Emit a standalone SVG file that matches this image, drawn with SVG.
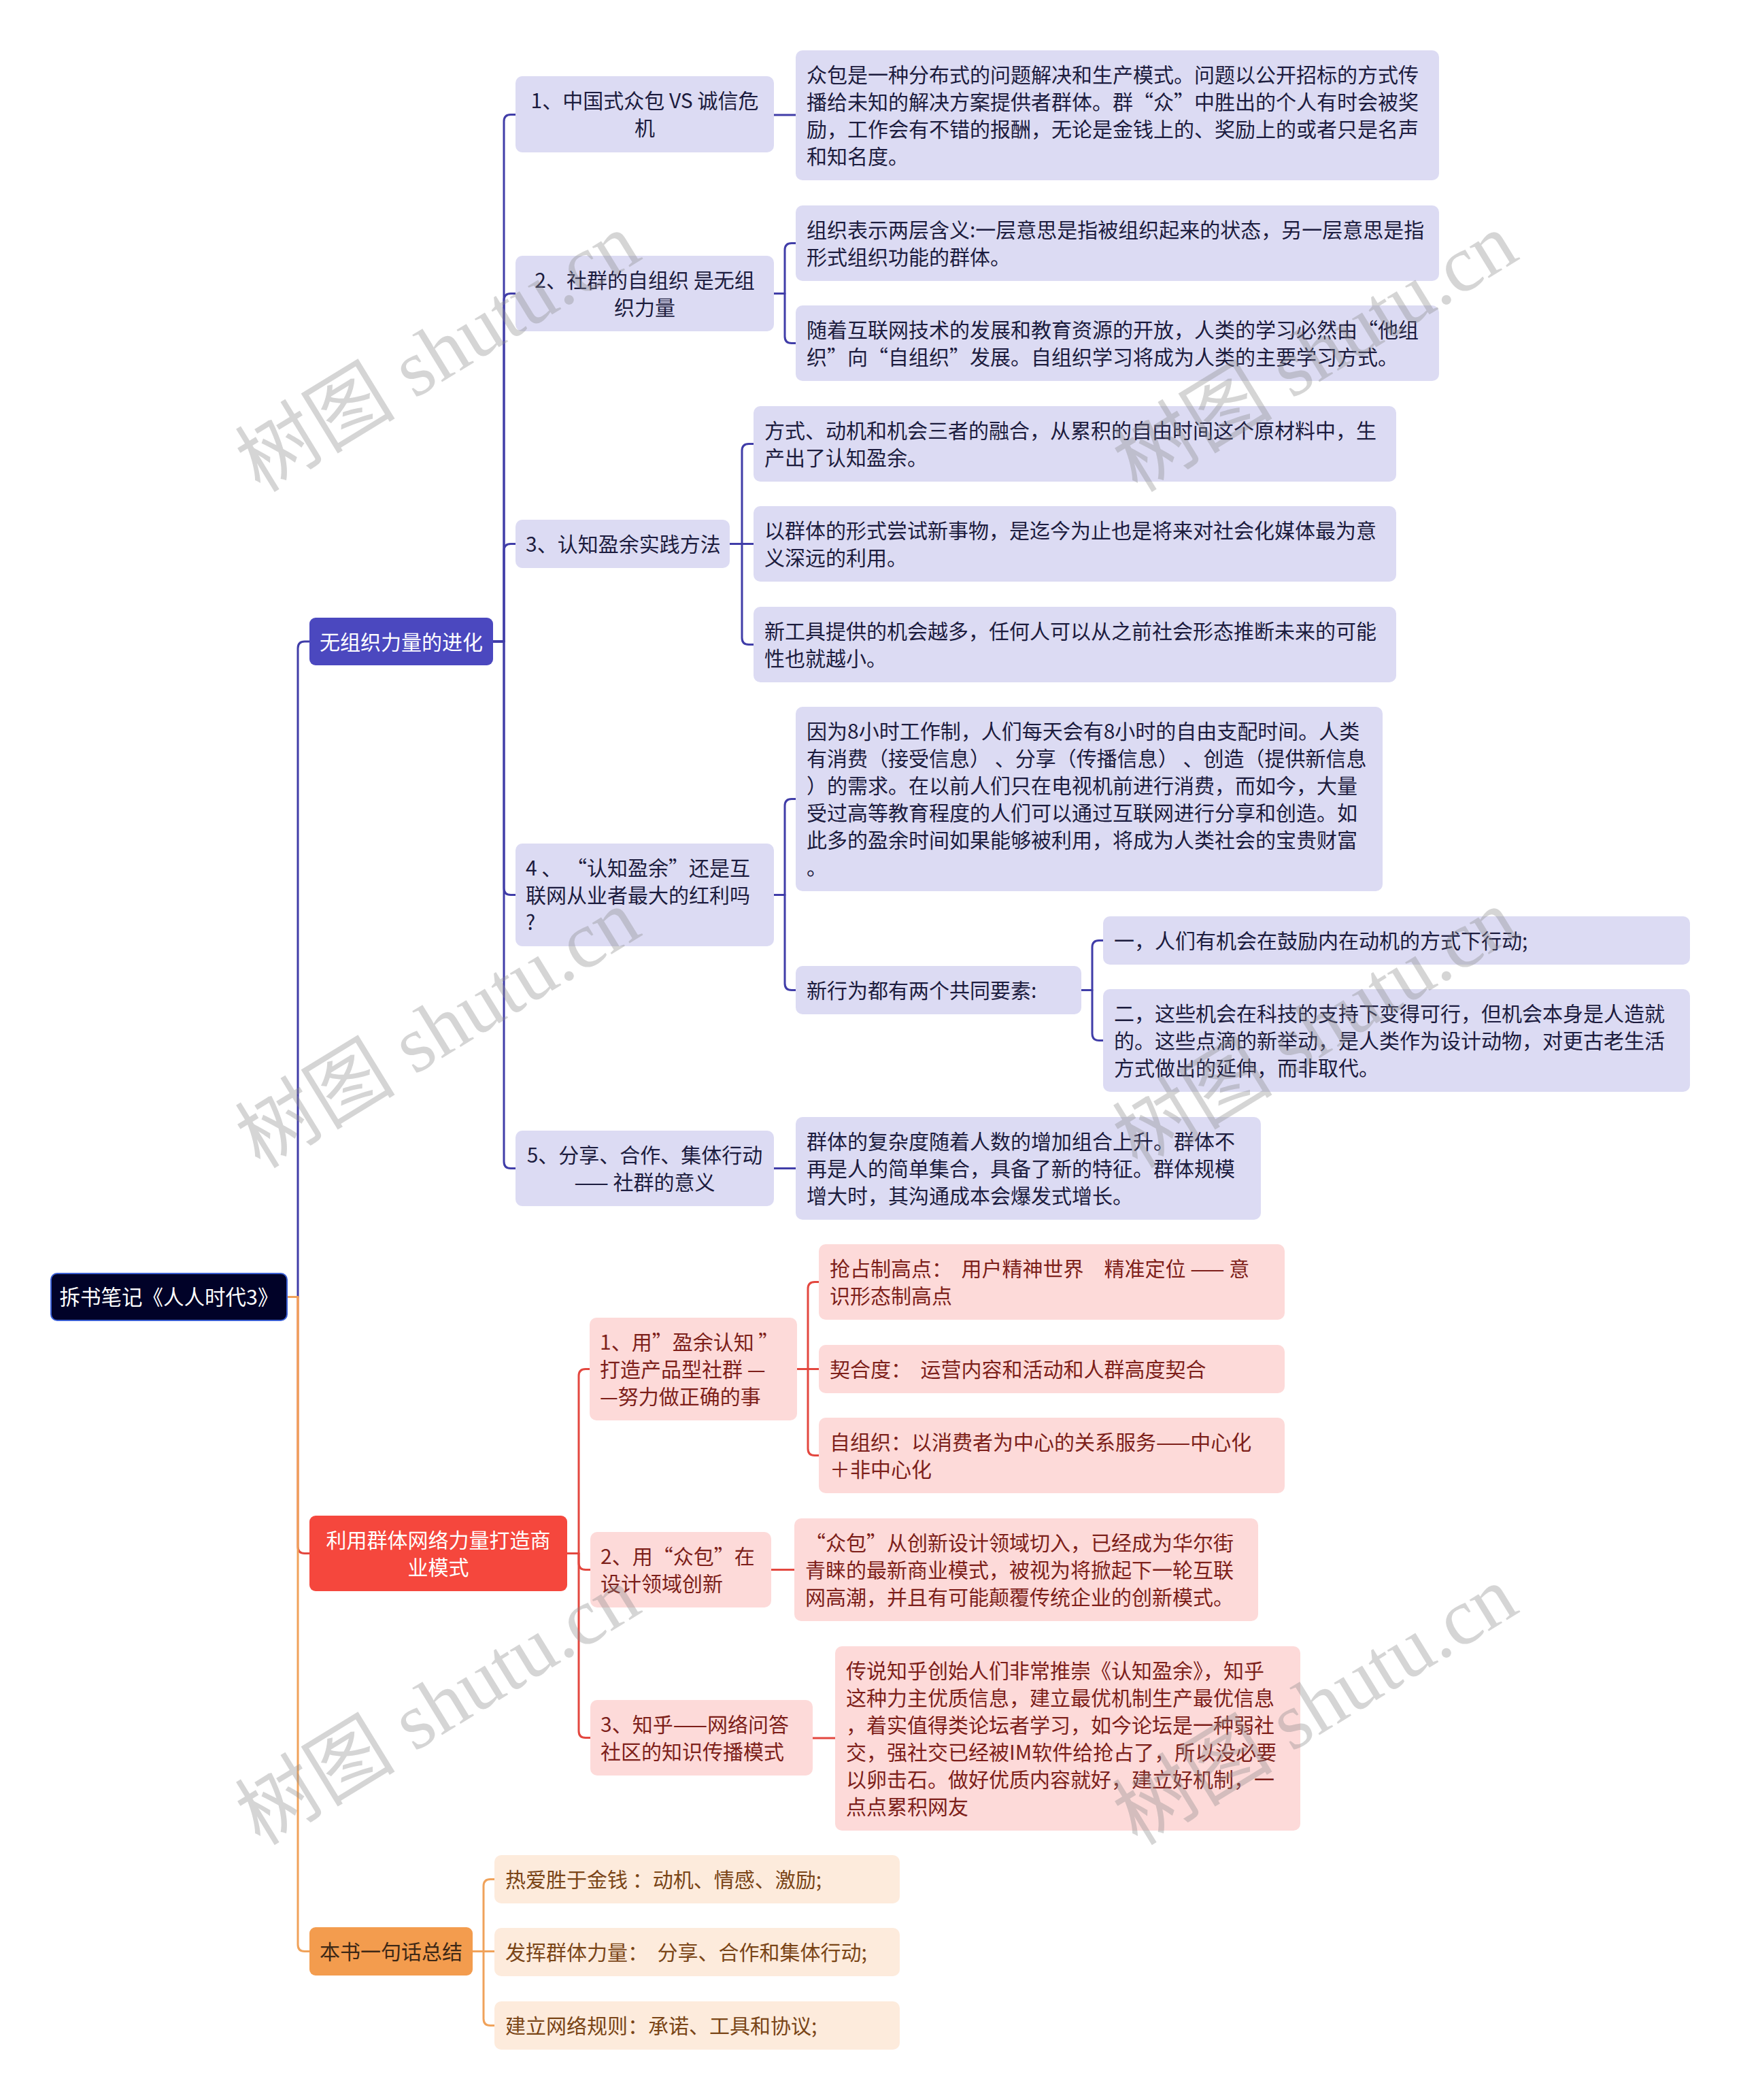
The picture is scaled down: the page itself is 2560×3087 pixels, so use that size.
<svg xmlns="http://www.w3.org/2000/svg" width="2560" height="3087" viewBox="0 0 2560 3087">
<style>
text{font-family:"Noto Sans CJK SC","Noto Sans",sans-serif;font-size:30px}
.lv{fill:#dcdbf3}
.pk{fill:#fddad9}
.pe{fill:#fdebdc}
.tA{fill:#1c1c3e}
.tB{fill:#7d1f1a}
.tC{fill:#7a4517}
.tw{fill:#ffffff}
.mid{text-anchor:middle}
.c{fill:none;stroke-width:3;stroke-linejoin:round}
.cA{stroke:#403da8}
.cB{stroke:#e3473f}
.cC{stroke:#f0a25a}
.wm{font-family:"Liberation Serif","Noto Sans CJK SC",serif;font-size:118px;fill:#8a8a8a;fill-opacity:0.36;text-anchor:middle}
</style>
<rect width="2560" height="3087" fill="#ffffff"/>

<g id="connectors">
<path class="c cA" d="M422,1906.5 H438 V953 Q438,943 448,943 H455"/>
<path class="c cB" d="M422,1906.5 H438 V2273.5 Q438,2283.5 448,2283.5 H455"/>
<path class="c cC" d="M422,1906.5 H438 V2858.5 Q438,2868.5 448,2868.5 H455"/>

<path class="c cA" d="M725,943 H741 V178.5 Q741,168.5 751,168.5 H758"/>
<path class="c cA" d="M725,943 H741 V441.5 Q741,431.5 751,431.5 H758"/>
<path class="c cA" d="M725,943 H741 V809.5 Q741,799.5 751,799.5 H758"/>
<path class="c cA" d="M725,943 H741 V1305.5 Q741,1315.5 751,1315.5 H758"/>
<path class="c cA" d="M725,943 H741 V1707.5 Q741,1717.5 751,1717.5 H758"/>

<path class="c cA" d="M1138,169 H1170"/>
<path class="c cA" d="M1138,431.5 H1154 V367.5 Q1154,357.5 1164,357.5 H1170"/>
<path class="c cA" d="M1138,431.5 H1154 V494.5 Q1154,504.5 1164,504.5 H1170"/>
<path class="c cA" d="M1073,799.5 H1091 V662.5 Q1091,652.5 1101,652.5 H1108"/>
<path class="c cA" d="M1073,799.5 H1108"/>
<path class="c cA" d="M1073,799.5 H1091 V937.5 Q1091,947.5 1101,947.5 H1108"/>
<path class="c cA" d="M1138,1315.5 H1154 V1184.5 Q1154,1174.5 1164,1174.5 H1170"/>
<path class="c cA" d="M1138,1315.5 H1154 V1445.5 Q1154,1455.5 1164,1455.5 H1170"/>
<path class="c cA" d="M1590,1455.5 H1606 V1392.5 Q1606,1382.5 1616,1382.5 H1622"/>
<path class="c cA" d="M1590,1455.5 H1606 V1519.5 Q1606,1529.5 1616,1529.5 H1622"/>
<path class="c cA" d="M1138,1717.5 H1170"/>

<path class="c cB" d="M834,2283.5 H851 V2022.5 Q851,2012.5 861,2012.5 H867"/>
<path class="c cB" d="M834,2283.5 H851 V2297.5 Q851,2307.5 861,2307.5 H868"/>
<path class="c cB" d="M834,2283.5 H851 V2544.5 Q851,2554.5 861,2554.5 H868"/>
<path class="c cB" d="M1172,2012.5 H1188 V1894.5 Q1188,1884.5 1198,1884.5 H1204"/>
<path class="c cB" d="M1172,2012.5 H1204"/>
<path class="c cB" d="M1172,2012.5 H1188 V2129.5 Q1188,2139.5 1198,2139.5 H1204"/>
<path class="c cB" d="M1134,2307.5 H1168"/>
<path class="c cB" d="M1195,2555 H1228"/>

<path class="c cC" d="M695,2868.5 H711 V2772.5 Q711,2762.5 721,2762.5 H727"/>
<path class="c cC" d="M695,2868.5 H727"/>
<path class="c cC" d="M695,2868.5 H711 V2967.5 Q711,2977.5 721,2977.5 H727"/>
</g>

<g id="root">
<rect x="75" y="1872" width="347" height="69" rx="9" fill="#010228" stroke="#3b5fd4" stroke-width="2"/>
<text class="tw mid" x="248.5" y="1917.5" style="font-size:30.5px">拆书笔记《人人时代3》</text>
</g>

<g id="n-a">
<rect x="455" y="908" width="270" height="70" rx="9" fill="#4b48bf"/>
<text class="tw mid" x="590" y="955">无组织力量的进化</text>
</g>
<g id="n-a1">
<rect class="lv" x="758" y="112" width="380" height="112" rx="10"/>
<text class="tA mid" x="948" y="159">1、中国式众包 VS 诚信危</text>
<text class="tA mid" x="948" y="199">机</text>
</g>
<g id="n-a1c">
<rect class="lv" x="1170" y="74" width="946" height="191" rx="10"/>
<text class="tA" x="1186" y="121">众包是一种分布式的问题解决和生产模式。问题以公开招标的方式传</text>
<text class="tA" x="1186" y="161">播给未知的解决方案提供者群体。群“众”中胜出的个人有时会被奖</text>
<text class="tA" x="1186" y="201">励，工作会有不错的报酬，无论是金钱上的、奖励上的或者只是名声</text>
<text class="tA" x="1186" y="241">和知名度。</text>
</g>
<g id="n-a2">
<rect class="lv" x="758" y="376" width="380" height="111" rx="10"/>
<text class="tA mid" x="948" y="423">2、社群的自组织 是无组</text>
<text class="tA mid" x="948" y="463">织力量</text>
</g>
<g id="n-a2c1">
<rect class="lv" x="1170" y="302" width="946" height="111" rx="10"/>
<text class="tA" x="1186" y="349">组织表示两层含义:一层意思是指被组织起来的状态，另一层意思是指</text>
<text class="tA" x="1186" y="389">形式组织功能的群体。</text>
</g>
<g id="n-a2c2">
<rect class="lv" x="1170" y="449" width="946" height="111" rx="10"/>
<text class="tA" x="1186" y="496">随着互联网技术的发展和教育资源的开放，人类的学习必然由“他组</text>
<text class="tA" x="1186" y="536">织”向“自组织”发展。自组织学习将成为人类的主要学习方式。</text>
</g>
<g id="n-a3">
<rect class="lv" x="758" y="764" width="315" height="71" rx="10"/>
<text class="tA" x="773" y="811">3、认知盈余实践方法</text>
</g>
<g id="n-a3c1">
<rect class="lv" x="1108" y="597" width="945" height="111" rx="10"/>
<text class="tA" x="1124" y="644">方式、动机和机会三者的融合，从累积的自由时间这个原材料中，生</text>
<text class="tA" x="1124" y="684">产出了认知盈余。</text>
</g>
<g id="n-a3c2">
<rect class="lv" x="1108" y="744" width="945" height="111" rx="10"/>
<text class="tA" x="1124" y="791">以群体的形式尝试新事物，是迄今为止也是将来对社会化媒体最为意</text>
<text class="tA" x="1124" y="831">义深远的利用。</text>
</g>
<g id="n-a3c3">
<rect class="lv" x="1108" y="892" width="945" height="111" rx="10"/>
<text class="tA" x="1124" y="939">新工具提供的机会越多，任何人可以从之前社会形态推断未来的可能</text>
<text class="tA" x="1124" y="979">性也就越小。</text>
</g>
<g id="n-a4">
<rect class="lv" x="758" y="1240" width="380" height="151" rx="10"/>
<text class="tA" x="773" y="1287" xml:space="preserve">4 、 “认知盈余”还是互</text>
<text class="tA" x="773" y="1327">联网从业者最大的红利吗</text>
<text class="tA" x="773" y="1367">?</text>
</g>
<g id="n-a4c1">
<rect class="lv" x="1170" y="1039" width="863" height="271" rx="10"/>
<text class="tA" x="1186" y="1086">因为8小时工作制，人们每天会有8小时的自由支配时间。人类</text>
<text class="tA" x="1186" y="1126" xml:space="preserve">有消费（接受信息） 、分享（传播信息） 、创造（提供新信息</text>
<text class="tA" x="1186" y="1166">）的需求。在以前人们只在电视机前进行消费，而如今，大量</text>
<text class="tA" x="1186" y="1206">受过高等教育程度的人们可以通过互联网进行分享和创造。如</text>
<text class="tA" x="1186" y="1246">此多的盈余时间如果能够被利用，将成为人类社会的宝贵财富</text>
<text class="tA" x="1186" y="1286">。</text>
</g>
<g id="n-a4c2">
<rect class="lv" x="1170" y="1420" width="420" height="71" rx="10"/>
<text class="tA" x="1186" y="1467">新行为都有两个共同要素:</text>
</g>
<g id="n-a4c2c1">
<rect class="lv" x="1622" y="1347" width="863" height="71" rx="10"/>
<text class="tA" x="1638" y="1394">一，人们有机会在鼓励内在动机的方式下行动;</text>
</g>
<g id="n-a4c2c2">
<rect class="lv" x="1622" y="1454" width="863" height="151" rx="10"/>
<text class="tA" x="1638" y="1501">二，这些机会在科技的支持下变得可行，但机会本身是人造就</text>
<text class="tA" x="1638" y="1541">的。这些点滴的新举动，是人类作为设计动物，对更古老生活</text>
<text class="tA" x="1638" y="1581">方式做出的延伸，而非取代。</text>
</g>
<g id="n-a5">
<rect class="lv" x="758" y="1662" width="380" height="111" rx="10"/>
<text class="tA mid" x="948" y="1709">5、分享、合作、集体行动</text>
<text class="tA mid" x="948" y="1749">—— 社群的意义</text>
</g>
<g id="n-a5c">
<rect class="lv" x="1170" y="1642" width="684" height="151" rx="10"/>
<text class="tA" x="1186" y="1689">群体的复杂度随着人数的增加组合上升。群体不</text>
<text class="tA" x="1186" y="1729">再是人的简单集合，具备了新的特征。群体规模</text>
<text class="tA" x="1186" y="1769">增大时，其沟通成本会爆发式增长。</text>
</g>

<g id="n-b">
<rect x="455" y="2228" width="379" height="111" rx="9" fill="#f5473d"/>
<text class="tw mid" x="644.5" y="2275">利用群体网络力量打造商</text>
<text class="tw mid" x="644.5" y="2315">业模式</text>
</g>
<g id="n-b1">
<rect class="pk" x="867" y="1937" width="305" height="151" rx="10"/>
<text class="tB" x="882" y="1984">1、用”盈余认知 ”</text>
<text class="tB" x="882" y="2024">打造产品型社群 —</text>
<text class="tB" x="882" y="2064">—努力做正确的事</text>
</g>
<g id="n-b1c1">
<rect class="pk" x="1204" y="1829" width="685" height="111" rx="10"/>
<text class="tB" x="1220" y="1876" xml:space="preserve">抢占制高点：  用户精神世界　精准定位 —— 意</text>
<text class="tB" x="1220" y="1916">识形态制高点</text>
</g>
<g id="n-b1c2">
<rect class="pk" x="1204" y="1977" width="685" height="71" rx="10"/>
<text class="tB" x="1220" y="2024" xml:space="preserve">契合度：  运营内容和活动和人群高度契合</text>
</g>
<g id="n-b1c3">
<rect class="pk" x="1204" y="2084" width="685" height="111" rx="10"/>
<text class="tB" x="1220" y="2131">自组织：以消费者为中心的关系服务——中心化</text>
<text class="tB" x="1220" y="2171">＋非中心化</text>
</g>
<g id="n-b2">
<rect class="pk" x="868" y="2252" width="266" height="111" rx="10"/>
<text class="tB" x="883" y="2299">2、用“众包”在</text>
<text class="tB" x="883" y="2339">设计领域创新</text>
</g>
<g id="n-b2c">
<rect class="pk" x="1168" y="2232" width="682" height="151" rx="10"/>
<text class="tB" x="1184" y="2279">“众包”从创新设计领域切入，已经成为华尔街</text>
<text class="tB" x="1184" y="2319">青睐的最新商业模式，被视为将掀起下一轮互联</text>
<text class="tB" x="1184" y="2359">网高潮，并且有可能颠覆传统企业的创新模式。</text>
</g>
<g id="n-b3">
<rect class="pk" x="868" y="2499" width="327" height="111" rx="10"/>
<text class="tB" x="883" y="2546">3、知乎——网络问答</text>
<text class="tB" x="883" y="2586">社区的知识传播模式</text>
</g>
<g id="n-b3c">
<rect class="pk" x="1228" y="2420" width="684" height="271" rx="10"/>
<text class="tB" x="1244" y="2467">传说知乎创始人们非常推崇《认知盈余》，知乎</text>
<text class="tB" x="1244" y="2507">这种力主优质信息，建立最优机制生产最优信息</text>
<text class="tB" x="1244" y="2547">，着实值得类论坛者学习，如今论坛是一种弱社</text>
<text class="tB" x="1244" y="2587">交，强社交已经被IM软件给抢占了，所以没必要</text>
<text class="tB" x="1244" y="2627">以卵击石。做好优质内容就好，建立好机制，一</text>
<text class="tB" x="1244" y="2667">点点累积网友</text>
</g>

<g id="n-c">
<rect x="455" y="2833" width="240" height="71" rx="9" fill="#f39c4e"/>
<text class="mid" x="575" y="2880" fill="#3d2816">本书一句话总结</text>
</g>
<g id="n-c1">
<rect class="pe" x="727" y="2727" width="596" height="71" rx="10"/>
<text class="tC" x="743" y="2774">热爱胜于金钱 ：动机、情感、激励;</text>
</g>
<g id="n-c2">
<rect class="pe" x="727" y="2834" width="596" height="71" rx="10"/>
<text class="tC" x="743" y="2881" xml:space="preserve">发挥群体力量：  分享、合作和集体行动;</text>
</g>
<g id="n-c3">
<rect class="pe" x="727" y="2942" width="596" height="71" rx="10"/>
<text class="tC" x="743" y="2989">建立网络规则：承诺、工具和协议;</text>
</g>

<g id="watermarks">
<text class="wm" transform="translate(645,520) rotate(-31.5)" x="0" y="38">树图 shutu.cn</text>
<text class="wm" transform="translate(1935,520) rotate(-31.5)" x="0" y="38">树图 shutu.cn</text>
<text class="wm" transform="translate(645,1514) rotate(-31.5)" x="0" y="38">树图 shutu.cn</text>
<text class="wm" transform="translate(1935,1514) rotate(-31.5)" x="0" y="38">树图 shutu.cn</text>
<text class="wm" transform="translate(645,2509) rotate(-31.5)" x="0" y="38">树图 shutu.cn</text>
<text class="wm" transform="translate(1935,2509) rotate(-31.5)" x="0" y="38">树图 shutu.cn</text>
</g>
</svg>
